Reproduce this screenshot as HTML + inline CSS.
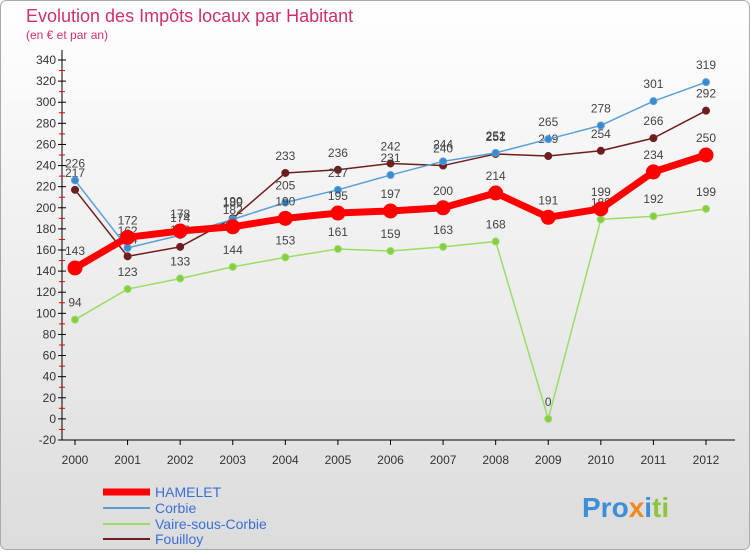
<!DOCTYPE html>
<html><head><meta charset="utf-8"><style>
body{margin:0;width:750px;height:550px;overflow:hidden;font-family:"Liberation Sans",sans-serif;background:#fff}
</style></head><body>
<svg width="750" height="550" xmlns="http://www.w3.org/2000/svg">
<defs><linearGradient id="bg" x1="0" y1="0" x2="0" y2="1"><stop offset="0" stop-color="#ffffff"/><stop offset="1" stop-color="#dcdcdc"/></linearGradient></defs>
<rect x="0.5" y="0.5" width="749" height="549" rx="6" fill="url(#bg)" stroke="#aaa"/>
<text x="26" y="22" font-size="18" fill="#d0306a">Evolution des Impôts locaux par Habitant</text>
<text x="26" y="39" font-size="12" fill="#d0306a">(en € et par an)</text>
<g id="axes"></g><g id="series"></g>
<g id="legend" font-size="14" fill="#3a6fd8">
<line x1="103" y1="492" x2="150" y2="492" stroke="#ff0000" stroke-width="7"/>
<text x="155" y="497">HAMELET</text>
<line x1="103" y1="508" x2="150" y2="508" stroke="#5aa0d8" stroke-width="2"/>
<text x="155" y="513">Corbie</text>
<line x1="103" y1="524" x2="150" y2="524" stroke="#99dd66" stroke-width="2"/>
<text x="155" y="529">Vaire-sous-Corbie</text>
<line x1="103" y1="539" x2="150" y2="539" stroke="#6e1e1e" stroke-width="2"/>
<text x="155" y="544">Fouilloy</text>
</g>
<text x="582" y="517" font-size="28" font-weight="bold"><tspan fill="#3a8fd8">Pro</tspan><tspan fill="#f08a1e">x</tspan><tspan fill="#3a8fd8">i</tspan><tspan fill="#8cc63f">ti</tspan></text>
</svg>
<script>
const years=["2000","2001","2002","2003","2004","2005","2006","2007","2008","2009","2010","2011","2012"];
const yTicks=[-20,0,20,40,60,80,100,120,140,160,180,200,220,240,260,280,300,320,340];
const hamelet=[143,172,178,182,190,195,197,200,214,191,199,234,250];
const corbie=[226,162,174,189,205,217,231,244,252,265,278,301,319];
const vaire=[94,123,133,144,153,161,159,163,168,0,189,192,199];
const fouilloy=[217,154,163,190,233,236,242,240,251,249,254,266,292];
const NS="http://www.w3.org/2000/svg";
const X=i=>75+i*(706-75)/12;
const Y=v=>440-(v+20)*(380/360);
function mk(t,a,p){const e=document.createElementNS(NS,t);for(const k in a)e.setAttribute(k,a[k]);p.appendChild(e);return e;}
const ax=document.getElementById('axes');
const yl=mk('line',{x1:62,y1:50,x2:62,y2:440,stroke:'#000'},ax);


const xl=mk('line',{x1:62,y1:440,x2:735,y2:440,stroke:'#000'},ax);


yTicks.forEach((v,i)=>{
 mk('line',{x1:58,y1:Y(v),x2:66,y2:Y(v),stroke:'#000'},ax);
 if(i<yTicks.length-1)mk('line',{x1:59,y1:Y(v+10),x2:65,y2:Y(v+10),stroke:'#e00'},ax);
 const t=mk('text',{x:56,y:Y(v)+4,'text-anchor':'end','font-size':12,fill:'#333'},ax);t.textContent=v;
 
 
});
years.forEach((y,i)=>{
 mk('line',{x1:X(i),y1:440,x2:X(i),y2:445,stroke:'#000'},ax);
 const t=mk('text',{x:X(i),y:464,'text-anchor':'middle','font-size':12,fill:'#333'},ax);t.textContent=y;
 
 
});
const sg=document.getElementById('series');
function series(data,color,w,r,name,dot){
 const g=mk('g',{},sg);
 
 
 const pl=mk('polyline',{points:data.map((v,i)=>X(i)+','+Y(v)).join(' '),fill:'none',stroke:color,'stroke-width':w,'stroke-linejoin':'round'},g);
 
 
 data.forEach((v,i)=>{
  const c=mk('circle',{cx:X(i),cy:Y(v),r:r,fill:dot,stroke:color,'stroke-width':1},g);
  
  
  const t=mk('text',{x:X(i),y:Y(v)-13,'text-anchor':'middle','font-size':12,fill:'#444'},g);t.textContent=v;
  
  
 });
}
series(vaire,'#99dd66',1.5,3.5,'vaire','#88cc44');
series(fouilloy,'#6e1e1e',1.5,3.5,'fouilloy','#6e1e1e');
series(corbie,'#5aa0d8',1.5,3.5,'corbie','#3a8ad0');
series(hamelet,'#ff0000',7,7,'hamelet','#ff0000');
</script>
</body></html>
